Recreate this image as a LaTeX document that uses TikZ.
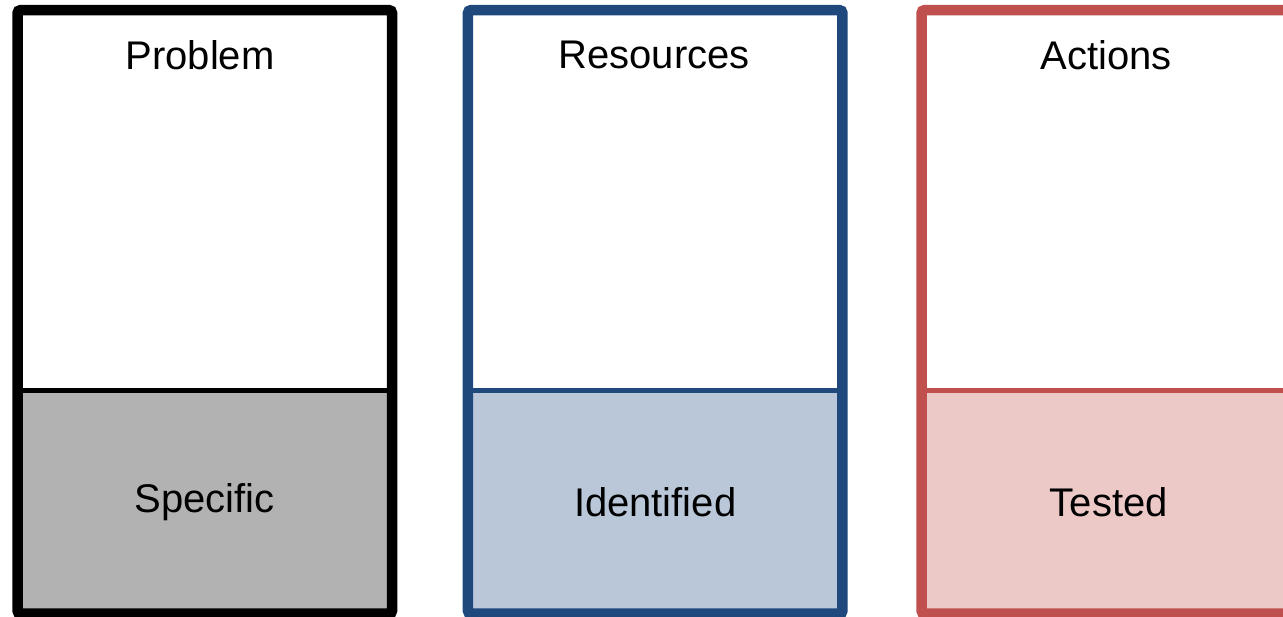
\documentclass[tikz,border=0pt]{standalone}
\usepackage{fontspec}
\setmainfont{Liberation Sans}
\usepackage{tikz}
\usetikzlibrary{positioning}
\definecolor{probline}{HTML}{000000}
\definecolor{probfill}{HTML}{B2B2B2}
\definecolor{resline}{HTML}{1F497D}
\definecolor{resfill}{HTML}{B9C7D9}
\definecolor{actline}{HTML}{C0504D}
\definecolor{actfill}{HTML}{ECC9C7}
\tikzstyle{upper}  = [
    draw,
    rectangle,
    line width=2.25pt,
    outer sep=0pt,
    inner sep=0pt,
    minimum width=187.25pt,
    minimum height=190.25pt
]
\tikzstyle{lower}  = [
    draw,
    rectangle,
    line width=2.25pt,
    outer sep=0pt,
    inner sep=0pt,
    minimum width=187.25pt,
    minimum height=111.5pt,
    font=\fontsize{20}{24}\selectfont
]
\tikzstyle{frame}  = [
    line width=5.25pt,
    rounded corners=1.5pt
]
\tikzstyle{title}  = [
    font=\fontsize{20}{24}\selectfont,
    inner sep=0pt
]

\begin{document}
\begin{tikzpicture}[x = 1pt, y = 1pt]
\useasboundingbox (0,0) rectangle (641.5,-308);

\node[upper, draw=probline] (p0)            at (102.4,-100.2) {};
\node[lower, draw=probline, fill=probfill, below=0pt of p0] (p1) {Specific};
\node[upper, draw=resline]  (r0)            at (327.6,-100.2) {};
\node[lower, draw=resline, fill=resfill, below=0pt of r0]   (r1) {Identified};
\node[upper, draw=actline]  (a0)            at (554.4,-100.2) {};
\node[lower, draw=actline, fill=actfill, below=0pt of a0]   (a1) {Tested};

\node[title] (pt) at (100,-27.5)  {Problem};
\node[title] (rt) at (327,-27.5)  {Resources};
\node[title] (at) at (553,-27.5)  {Actions};

\draw[frame, draw=probline] (p0.north west) rectangle (p1.south east);
\draw[frame, draw=resline]  (r0.north west) rectangle (r1.south east);
\draw[frame, draw=actline]  (a0.north west) rectangle (a1.south east);

\end{tikzpicture}
\end{document}
